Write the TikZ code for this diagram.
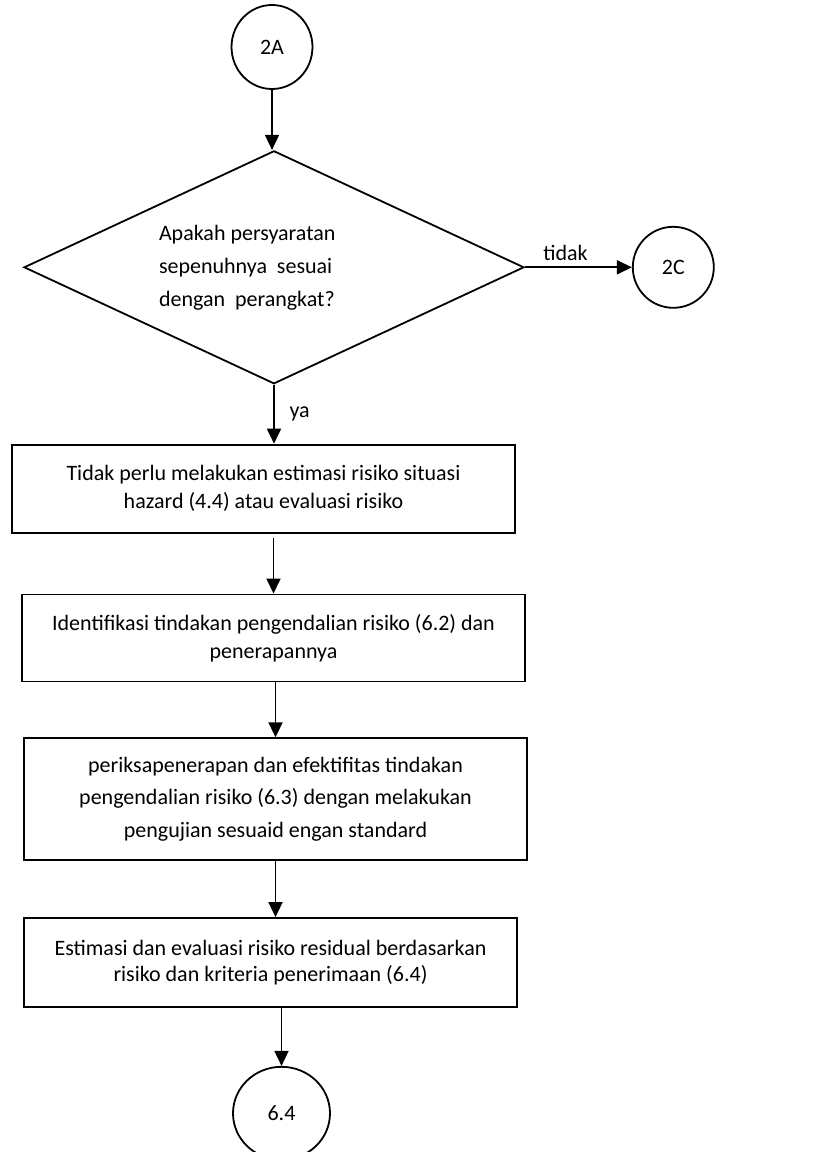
\documentclass[tikz,border=0pt]{standalone}
\usepackage{fontspec}
\setmainfont{Carlito}
\usetikzlibrary{shapes.geometric, arrows.meta, positioning}

\begin{document}
\begin{tikzpicture}[every node/.style={font=\fontsize{11pt}{14pt}\selectfont},
    konektor/.style={ellipse, draw, line width=0.9pt, inner sep=0pt},
    kotak/.style={rectangle, draw, line width=0.9pt, align=center, inner sep=0pt},
    keputusan/.style={diamond, draw, line width=0.9pt, inner sep=0pt, aspect=2},
    alur/.style={line width=0.9pt, -{Triangle[length=7.5pt, width=7pt]}}]

  \useasboundingbox (0,0) rectangle (417.5pt,-576pt);

  % Konektor awal
  \node[konektor, minimum width=40.5pt, minimum height=42pt] (a2A) at (136pt,-23.5pt) {2A};

  % Keputusan
  \node[keputusan, minimum width=250pt, minimum height=116.5pt, text width=115pt, align=flush left,
        font=\fontsize{11pt}{16.5pt}\selectfont, below=30pt of a2A, xshift=1pt] (tanya)
        {Apakah persyaratan\\ sepenuhnya\ \ sesuai\\ dengan\ \ perangkat?};
  \node[konektor, minimum width=40.5pt, minimum height=40.5pt, right=53.5pt of tanya] (a2C) {2C};

  % Kotak proses
  \node[kotak, minimum width=251.5pt, minimum height=44pt, below=29.5pt of tanya, xshift=-5.25pt] (kotak1)
        {Tidak perlu melakukan estimasi risiko situasi\\ hazard (4.4) atau evaluasi risiko};
  \node[kotak, minimum width=251.5pt, minimum height=43.5pt, below=30pt of kotak1, xshift=5pt] (kotak2)
        {Identifikasi tindakan pengendalian risiko (6.2) dan\\ penerapannya};
  \node[kotak, minimum width=251.5pt, minimum height=61pt, below=27.5pt of kotak2, xshift=1pt,
        font=\fontsize{11pt}{16.25pt}\selectfont] (kotak3)
        {periksapenerapan dan efektifitas tindakan\\ pengendalian risiko (6.3) dengan melakukan\\ pengujian sesuaid engan standard};
  \node[kotak, minimum width=246.5pt, minimum height=44.5pt, below=28pt of kotak3, xshift=-2.5pt,
        font=\fontsize{11pt}{13pt}\selectfont] (kotak4)
        {Estimasi dan evaluasi risiko residual berdasarkan\\ risiko dan kriteria penerimaan (6.4)};

  % Konektor akhir
  \node[konektor, minimum width=48.5pt, minimum height=46.5pt, below=29pt of kotak4, xshift=5.5pt] (a64) {6.4};

  % Panah alur
  \draw[alur] (a2A.south) -- (a2A.south |- tanya.north);
  \draw[alur] (tanya.east) -- node[pos=0.38, above, inner sep=3pt] (ltidak) {tidak} (a2C.west);
  \draw[alur] (tanya.south) -- node[midway, right, xshift=4pt] (lya) {ya} (tanya.south |- kotak1.north);
  \draw[alur] ([yshift=-2pt]kotak2.north |- kotak1.south) -- (kotak2.north);
  \draw[alur] (kotak3.north |- kotak2.south) -- (kotak3.north);
  \draw[alur] (kotak3.south) -- (kotak3.south |- kotak4.north);
  \draw[alur] (a64.north |- kotak4.south) -- (a64.north);

\end{tikzpicture}
\end{document}
